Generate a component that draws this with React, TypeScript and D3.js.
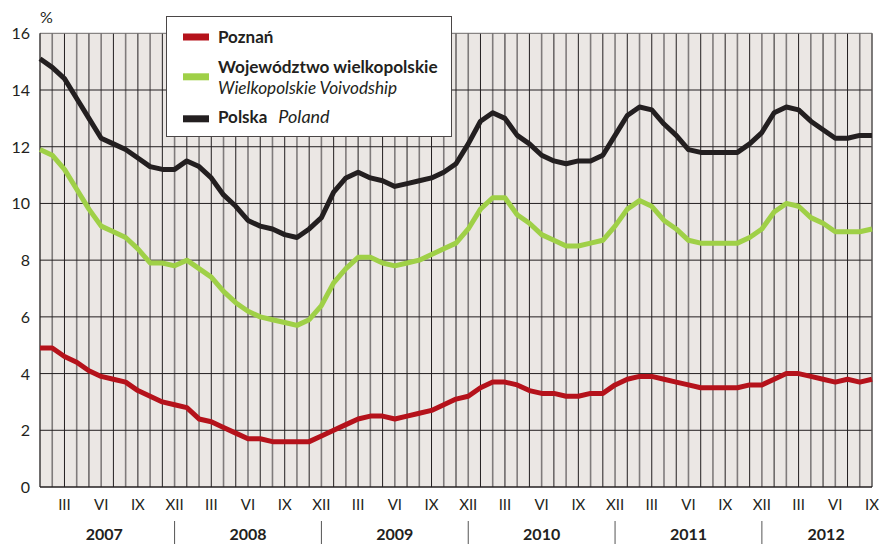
import React from 'react';
import * as d3 from 'd3';

// monthly unemployment rate, I 2007 - IX 2012
const years = ['2007', '2008', '2009', '2010', '2011', '2012'];
const quarterMonths = ['III', 'VI', 'IX', 'XII'];
const yTicks = [0, 2, 4, 6, 8, 10, 12, 14, 16];

const poznan = [
  4.9, 4.9, 4.6, 4.4, 4.1, 3.9, 3.8, 3.7, 3.4, 3.2, 3.0, 2.9,
  2.8, 2.4, 2.3, 2.1, 1.9, 1.7, 1.7, 1.6, 1.6, 1.6, 1.6, 1.8,
  2.0, 2.2, 2.4, 2.5, 2.5, 2.4, 2.5, 2.6, 2.7, 2.9, 3.1, 3.2,
  3.5, 3.7, 3.7, 3.6, 3.4, 3.3, 3.3, 3.2, 3.2, 3.3, 3.3, 3.6,
  3.8, 3.9, 3.9, 3.8, 3.7, 3.6, 3.5, 3.5, 3.5, 3.5, 3.6, 3.6,
  3.8, 4.0, 4.0, 3.9, 3.8, 3.7, 3.8, 3.7, 3.8,
];

const wielkopolskie = [
  11.9, 11.7, 11.2, 10.5, 9.8, 9.2, 9.0, 8.8, 8.4, 7.9, 7.9, 7.8,
  8.0, 7.7, 7.4, 6.9, 6.5, 6.2, 6.0, 5.9, 5.8, 5.7, 5.9, 6.4,
  7.2, 7.7, 8.1, 8.1, 7.9, 7.8, 7.9, 8.0, 8.2, 8.4, 8.6, 9.1,
  9.8, 10.2, 10.2, 9.6, 9.3, 8.9, 8.7, 8.5, 8.5, 8.6, 8.7, 9.2,
  9.8, 10.1, 9.9, 9.4, 9.1, 8.7, 8.6, 8.6, 8.6, 8.6, 8.8, 9.1,
  9.7, 10.0, 9.9, 9.5, 9.3, 9.0, 9.0, 9.0, 9.1,
];

const polska = [
  15.1, 14.8, 14.4, 13.7, 13.0, 12.3, 12.1, 11.9, 11.6, 11.3, 11.2, 11.2,
  11.5, 11.3, 10.9, 10.3, 9.9, 9.4, 9.2, 9.1, 8.9, 8.8, 9.1, 9.5,
  10.4, 10.9, 11.1, 10.9, 10.8, 10.6, 10.7, 10.8, 10.9, 11.1, 11.4, 12.1,
  12.9, 13.2, 13.0, 12.4, 12.1, 11.7, 11.5, 11.4, 11.5, 11.5, 11.7, 12.4,
  13.1, 13.4, 13.3, 12.8, 12.4, 11.9, 11.8, 11.8, 11.8, 11.8, 12.1, 12.5,
  13.2, 13.4, 13.3, 12.9, 12.6, 12.3, 12.3, 12.4, 12.4,
];

const series = [
  { values: poznan, color: '#b5121b' },
  { values: wielkopolskie, color: '#9fd047' },
  { values: polska, color: '#231f20' },
];

const W = 882;
const H = 544;
const font = 'Lato, "Open Sans", sans-serif';
const ink = '#231f20';

const App = () => {
  const n = polska.length;
  const x = d3.scaleLinear().domain([0, n - 1]).range([40, 872]);
  const y = d3.scaleLinear().domain([0, 16]).range([487, 33.3]);

  const line = d3.line<number>()
    .x((_, i) => x(i))
    .y((d) => y(d));

  const months = d3.range(n);

  return (
    <svg width={W} height={H} style={{ position: 'absolute', left: 0, top: 0 }} fontFamily={font}>
      <rect x={x(0)} y={y(16)} width={x(n - 1) - x(0)} height={y(0) - y(16)} fill="#ebe7e4" />

      {/* monthly verticals */}
      {months.slice(1).map((i) => (
        <line key={'v' + i} x1={x(i)} x2={x(i)} y1={y(16)} y2={y(0)}
          stroke={i % 2 ? '#7f7b7b' : '#231f20'} strokeWidth={i % 2 ? 1.6 : 1} />
      ))}
      {yTicks.slice(1).map((t) => (
        <line key={'h' + t} x1={x(0)} x2={x(n - 1)} y1={y(t)} y2={y(t)}
          stroke={t === 16 ? '#6d6a6a' : ink} strokeWidth={1} />
      ))}
      <line x1={x(n - 1)} x2={x(n - 1)} y1={y(16)} y2={y(0)} stroke="#6d6a6a" />
      <line x1={x(0)} x2={x(0)} y1={y(16)} y2={y(0)} stroke={ink} strokeWidth={1.3} />
      <line x1={x(0)} x2={x(n - 1)} y1={y(0)} y2={y(0)} stroke={ink} strokeWidth={1.3} />

      {yTicks.map((t) => (
        <text key={'yl' + t} x={30} y={y(t) + 6} textAnchor="end" fontSize={16} fill={ink}>{t}</text>
      ))}
      <text x={40} y={23} fontSize={16} fill={ink}>%</text>

      {series.map((s, k) => (
        <path key={'s' + k} d={line(s.values) || ''} fill="none" stroke={s.color}
          strokeWidth={5} strokeLinejoin="round" strokeLinecap="butt" />
      ))}

      {/* month labels */}
      {months.filter((i) => i % 3 === 2).map((i) => (
        <text key={'m' + i} x={x(i)} y={510} textAnchor="middle" fontSize={15} fill={ink}>
          {quarterMonths[Math.floor((i % 12) / 3)]}
        </text>
      ))}

      {/* year separators and labels */}
      {years.slice(0, -1).map((yr, k) => (
        <line key={'ys' + yr} x1={x(k * 12 + 11)} x2={x(k * 12 + 11)} y1={521} y2={544} stroke="#555" strokeWidth={1} />
      ))}
      {years.map((yr, k) => {
        const lo = Math.max(k * 12 - 1, 0);
        const hi = Math.min(k * 12 + 11, n - 1);
        const c = ((lo + hi) / 2 + (k * 12 + 5)) / 2;
        return (
          <text key={'yl' + yr} x={x(c)} y={540} textAnchor="middle" fontSize={16} fontWeight="bold" fill={ink}>{yr}</text>
        );
      })}

      {/* legend */}
      <g fontSize={17} fill={ink}>
        <rect x={166.5} y={16.5} width={285} height={120} fill="#fff" stroke="#4a4646" strokeWidth={1} />
        <rect x={183} y={33.5} width={26} height={7} fill={series[0].color} />
        <text x={218} y={43.3} fontWeight="bold">Poznań</text>
        <rect x={183} y={73.3} width={26} height={7} fill={series[1].color} />
        <text x={218} y={73} fontWeight="bold" fontSize={17.2}>Województwo wielkopolskie</text>
        <text x={218} y={94} fontStyle="italic" fontSize={17.2}>Wielkopolskie Voivodship</text>
        <rect x={183} y={115.3} width={26} height={7} fill={series[2].color} />
        <text x={218} y={123.3}>
          <tspan fontWeight="bold">Polska</tspan>
          <tspan fontStyle="italic" fontSize={18} dx={11}>Poland</tspan>
        </text>
      </g>
    </svg>
  );
};

export default App;
